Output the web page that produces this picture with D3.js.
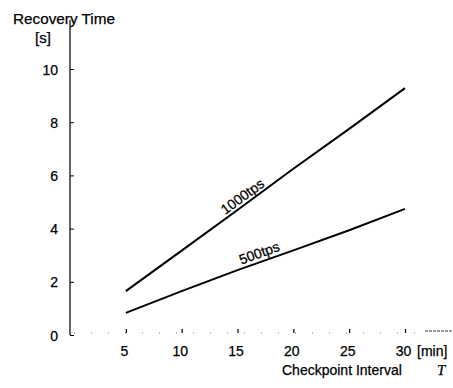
<!DOCTYPE html>
<html lang="en">
<head>
	<title>Recovery Time</title>
	<script src="https://d3js.org/d3.v7.min.js" charset="utf-8"></script>
	<style>
		body { margin: 0; background: #fff; }
		text { font-family: "Liberation Sans", Arial, sans-serif; fill: #000; stroke: #000; stroke-width: 0.25px; }
	</style>
</head>
<body>
	<script>
		var intervals = [5, 10, 15, 20, 25, 30];
		var tps1000 = [1.65, 3.17, 4.7, 6.25, 7.75, 9.28];
		var tps500 = [0.83, 1.65, 2.44, 3.18, 3.94, 4.74];
		var xTicks = [5, 10, 15, 20, 25, 30];
		var yTicks = [0, 2, 4, 6, 8, 10];

		var w = 453;
		var h = 388;

		var svg = d3.select("body")
			.append("svg")
			.attr("width", w)
			.attr("height", h);

		var x = d3.scaleLinear().domain([0, 30]).range([70, 405]);
		var y = d3.scaleLinear().domain([0, 10]).range([335, 69]);

		// y axis, ticks point inward
		var yAxis = svg.append("g")
			.attr("transform", "translate(70,0)")
			.call(d3.axisLeft(y).tickValues(yTicks).tickSize(-4).tickPadding(12));
		yAxis.select(".domain").remove();
		yAxis.selectAll("text").style("font-size", "14px").attr("dy", "0.36em");
		yAxis.selectAll(".tick line").attr("stroke-width", 1);
		svg.append("line")
			.attr("x1", 70).attr("x2", 70)
			.attr("y1", 20).attr("y2", 335)
			.attr("stroke", "#111").attr("stroke-width", 1.3);

		// x axis: faded scan, mostly dots
		var xAxis = svg.append("g")
			.attr("transform", "translate(0,333)")
			.call(d3.axisBottom(x).tickValues(xTicks).tickSize(-4).tickPadding(13));
		xAxis.select(".domain").remove();
		xAxis.selectAll("text").style("font-size", "14px").attr("dx", "-2");
		xAxis.selectAll(".tick line").attr("stroke-width", 1.2);
		svg.append("line")
			.attr("x1", 74).attr("x2", 420)
			.attr("y1", 333).attr("y2", 333)
			.attr("stroke", "#777").attr("stroke-width", 1)
			.attr("stroke-dasharray", "1,16");
		svg.append("line")
			.attr("x1", 425).attr("x2", 453)
			.attr("y1", 331).attr("y2", 331)
			.attr("stroke", "#333").attr("stroke-width", 1)
			.attr("stroke-dasharray", "3,1");

		var line = d3.line()
			.x(function(d, i) { return x(intervals[i]); })
			.y(function(d) { return y(d); });

		[tps1000, tps500].forEach(function(s) {
			svg.append("path")
				.datum(s)
				.attr("d", line)
				.attr("fill", "none")
				.attr("stroke", "#000")
				.attr("stroke-width", 2);
		});

		// labels along the lines
		svg.append("text")
			.attr("transform", "translate(" + x(15.7) + "," + (y(4.95) - 3) + ") rotate(-36)")
			.attr("text-anchor", "middle")
			.style("font-size", "14px")
			.text("1000tps");
		svg.append("text")
			.attr("transform", "translate(" + x(17.1) + "," + (y(2.8) - 3) + ") rotate(-20)")
			.attr("text-anchor", "middle")
			.style("font-size", "14px")
			.text("500tps");

		// titles
		svg.append("text").attr("x", 13).attr("y", 24).style("font-size", "15.3px").text("Recovery Time");
		svg.append("text").attr("x", 35).attr("y", 43).style("font-size", "15px").text("[s]");
		svg.append("text").attr("x", 417).attr("y", 356).style("font-size", "14px").text("[min]");
		svg.append("text").attr("x", 282).attr("y", 375).style("font-size", "14px").text("Checkpoint Interval");
		svg.append("text").attr("x", 437).attr("y", 375)
			.style("font-family", "'Liberation Serif', 'Times New Roman', serif")
			.style("font-style", "italic").style("font-size", "15px").text("T");
	</script>
</body>
</html>
